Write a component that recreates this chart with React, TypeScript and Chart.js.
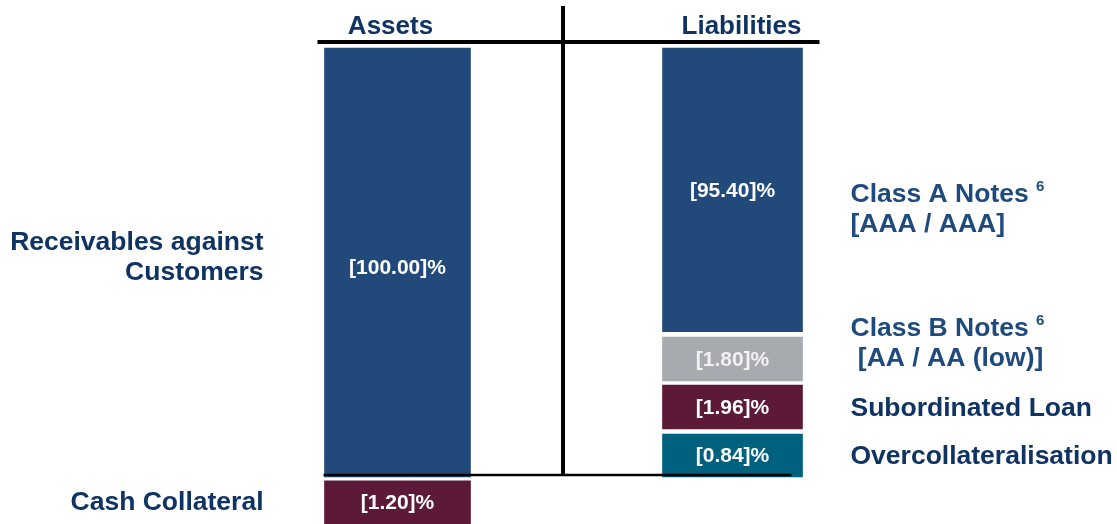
import React, { useEffect, useRef } from "react";
import { Chart, registerables } from "chart.js";

Chart.register(...registerables);

// ---- data ----
const categories = ["Assets", "Liabilities"];

// asset side
const assetNames = ["Receivables against\nCustomers", "Cash Collateral"];
const assetShares = ["[100.00]%", "[1.20]%"];
// schematic extents of each block on the structure diagram (value-axis units)
const assetFrom = [0, -0.9];
const assetTo = [100, -12];

// liability side
const liabilityNames = [
  "Class A Notes|6\n[AAA / AAA]",
  "Class B Notes|6\n [AA / AA (low)]",
  "Subordinated Loan",
  "Overcollateralisation",
];
const liabilityShares = ["[95.40]%", "[1.80]%", "[1.96]%", "[0.84]%"];
const liabilityFrom = [33.9, 22.4, 11.2, 0];
const liabilityTo = [100, 32.6, 21.4, 10];

// ---- styles ----
const assetColors = ["#214A7B", "#5C1A38"];
const liabilityColors = ["#214A7B", "#A7AAAE", "#5C1A38", "#00617F"];
const assetNameColors = ["#0F3363", "#0F3363"];
const liabilityNameColors = ["#1F4A7D", "#1F4A7D", "#0F3363", "#0F3363"];
const assetLabelShift = [5, 0];
const assetNameShift = [-5, 0];
const liabilityNameShift = [20, -15, 2, 1];
const shareTextColors = ["#FFFFFF", "#F2F2F2", "#FFFFFF", "#FFFFFF"];
const FONT = "Liberation Sans, Arial, sans-serif";

export default function App() {
  const ref = useRef<HTMLCanvasElement | null>(null);

  useEffect(() => {
    const canvas = ref.current;
    if (!canvas) return;

    const datasets: any[] = [];
    assetShares.forEach((s, i) => {
      datasets.push({
        label: assetNames[i],
        data: [[assetFrom[i], assetTo[i]], null],
        backgroundColor: assetColors[i],
        borderWidth: 0,
        barThickness: 146,
        share: s,
        side: "asset",
        idx: i,
      });
    });
    liabilityShares.forEach((s, i) => {
      datasets.push({
        label: liabilityNames[i],
        data: [null, [liabilityFrom[i], liabilityTo[i]]],
        backgroundColor: liabilityColors[i],
        borderWidth: 0,
        barThickness: 140,
        share: s,
        side: "liability",
        idx: i,
      });
    });

    const decor = {
      id: "decor",
      afterDatasetsDraw(chart: any) {
        const ctx = chart.ctx;
        const xs = chart.scales.x;
        const ys = chart.scales.y;
        const xA = xs.getPixelForValue(0);
        const xL = xs.getPixelForValue(1);
        const y0 = ys.getPixelForValue(0);
        const yTop = ys.getPixelForValue(100);
        const mid = (xA + xL) / 2 - 2;

        ctx.save();
        // frame lines
        ctx.strokeStyle = "#000";
        ctx.lineWidth = 4;
        ctx.beginPath();
        ctx.moveTo(xA - 80, yTop - 6);
        ctx.lineTo(xL + 87, yTop - 6);
        ctx.stroke();
        ctx.beginPath();
        ctx.moveTo(mid, 6);
        ctx.lineTo(mid, y0 - 2);
        ctx.stroke();
        ctx.lineWidth = 2.5;
        ctx.beginPath();
        ctx.moveTo(xA - 74, y0 - 2);
        ctx.lineTo(xL + 59, y0 - 2);
        ctx.stroke();

        // headers
        ctx.fillStyle = "#0F3363";
        ctx.font = `bold 26px ${FONT}`;
        ctx.textAlign = "center";
        ctx.textBaseline = "middle";
        ctx.fillText(categories[0], xA - 7, 27);
        ctx.fillText(categories[1], xL + 9, 27);

        // bar share labels and names
        chart.data.datasets.forEach((ds: any, di: number) => {
          const meta = chart.getDatasetMeta(di);
          const el = meta.data[ds.side === "asset" ? 0 : 1];
          if (!el) return;
          const top = Math.max(Math.min(el.y, el.base), 0);
          const bot = Math.min(Math.max(el.y, el.base), chart.height);
          let cy = (top + bot) / 2;
          if (ds.side === "asset" && ds.idx === 1) cy = (top + 524) / 2;
          const shift = ds.side === "asset" ? assetLabelShift[ds.idx] : 0;

          ctx.font = `bold 21px ${FONT}`;
          ctx.textAlign = "center";
          ctx.fillStyle = ds.side === "asset" ? "#FFFFFF" : shareTextColors[ds.idx];
          ctx.fillText(ds.share, el.x, cy + shift + 1);

          // names
          const lines = String(ds.label).split("\n");
          const lh = 30;
          if (ds.side === "asset") {
            ctx.fillStyle = assetNameColors[ds.idx];
            ctx.textAlign = "right";
            ctx.font = `bold 26.5px ${FONT}`;
            const c = cy + assetNameShift[ds.idx];
            lines.forEach((ln, k) => {
              ctx.fillText(ln, xA - 134, c + (k - (lines.length - 1) / 2) * lh);
            });
          } else {
            ctx.fillStyle = liabilityNameColors[ds.idx];
            ctx.textAlign = "left";
            const c = cy + liabilityNameShift[ds.idx];
            lines.forEach((ln, k) => {
              const yy = c + (k - (lines.length - 1) / 2) * lh;
              const [txt, sup] = ln.split("|");
              ctx.font = `bold 26.5px ${FONT}`;
              const x0 = xL + 118;
              ctx.fillText(txt, x0, yy);
              if (sup) {
                const w = ctx.measureText(txt + " ").width;
                ctx.font = `bold 15px ${FONT}`;
                ctx.fillText(sup, x0 + w, yy - 8);
              }
            });
          }
        });
        ctx.restore();
      },
    };

    const chart = new Chart(canvas, {
      type: "bar",
      data: { labels: categories, datasets },
      options: {
        animation: false,
        responsive: false,
        events: [],
        layout: { padding: { left: 230, right: 217, top: 0, bottom: 0 } },
        plugins: { legend: { display: false }, tooltip: { enabled: false } },
        scales: {
          x: { type: "category", stacked: true, display: false },
          y: { type: "linear", min: -10.956, max: 111.19, display: false },
        },
      },
      plugins: [decor],
    });
    return () => chart.destroy();
  }, []);

  return (
    <div style={{ position: "fixed", left: 0, top: 0, width: 1117, height: 524, background: "#fff" }}>
      <canvas ref={ref} width={1117} height={524} style={{ display: "block" }} />
    </div>
  );
}
